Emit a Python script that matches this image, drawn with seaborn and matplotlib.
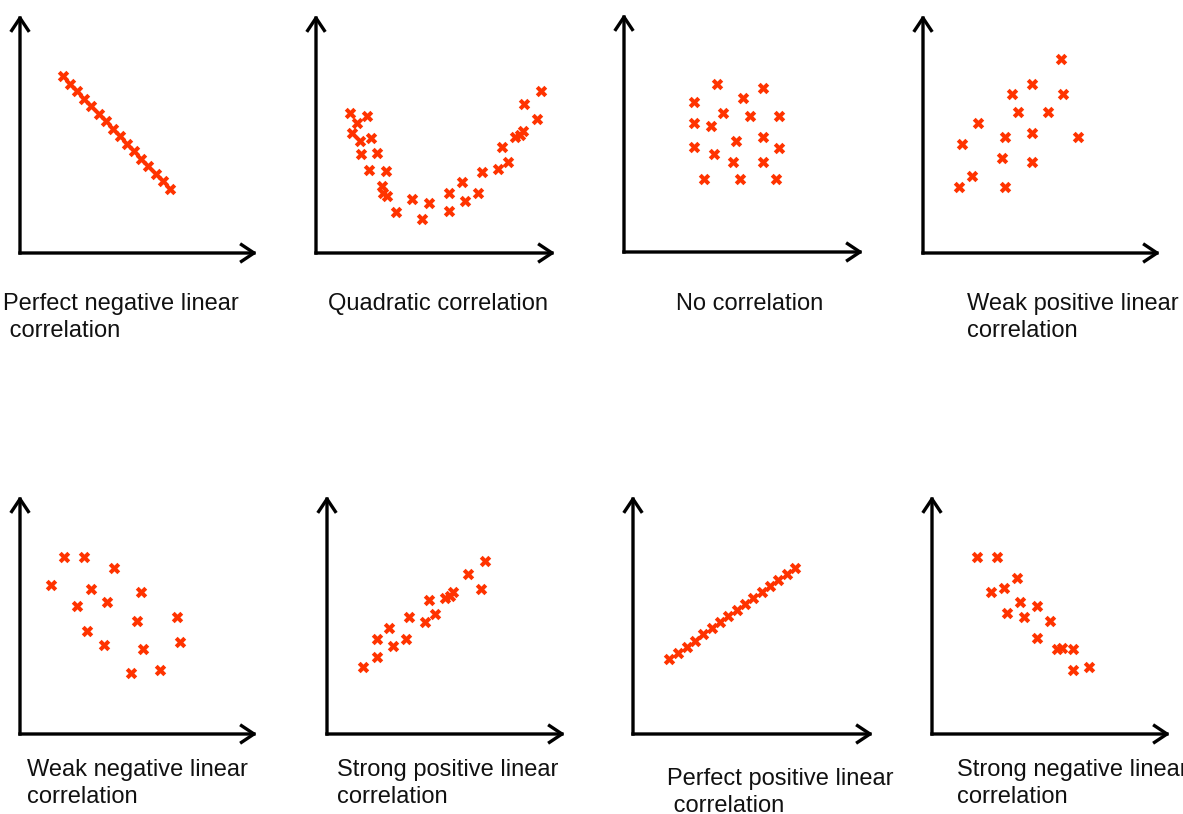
import matplotlib
matplotlib.use("Agg")
import matplotlib.pyplot as plt
import seaborn as sns
import pandas as pd

sns.set_style("white")
plt.rcParams['font.family'] = ['Liberation Sans', 'DejaVu Sans']

# ---- data (x, y) for each panel, arbitrary units measured from the origin ----
perf_neg_x = [43, 50, 57, 64, 71, 79, 86, 93, 100, 107, 114, 121, 128, 136, 143, 150]
perf_neg_y = [177, 169, 162, 154, 147, 139, 132, 124, 117, 109, 102, 94, 87, 79, 72, 64]

quad_x = [34, 51, 41, 36, 44, 55, 45, 61, 53, 70, 66, 67, 71, 80, 96, 113, 106, 133,
          133, 146, 149, 162, 166, 182, 192, 186, 199, 204, 207, 208, 221, 225]
quad_y = [140, 137, 130, 120, 112, 115, 99, 100, 83, 82, 67, 60, 57, 41, 54, 50, 34, 60,
          42, 71, 52, 60, 81, 84, 91, 106, 116, 118, 122, 149, 134, 162]

none_x = [93, 139, 70, 119, 99, 126, 155, 70, 87, 112, 139, 70, 155, 90, 109, 139, 80, 116, 152]
none_y = [168, 164, 150, 154, 139, 136, 136, 129, 126, 111, 115, 105, 104, 98, 90, 90, 73, 73, 73]

weak_pos_x = [138, 109, 89, 140, 95, 125, 55, 82, 109, 155, 39, 79, 109, 49, 36, 82]
weak_pos_y = [194, 169, 159, 159, 141, 141, 130, 116, 120, 116, 109, 95, 91, 77, 66, 66]

weak_neg_x = [44, 64, 94, 31, 71, 121, 57, 87, 117, 157, 67, 84, 123, 160, 111, 140]
weak_neg_y = [177, 177, 166, 149, 145, 142, 128, 132, 113, 117, 103, 89, 85, 92, 61, 64]

strong_pos_x = [158, 141, 154, 126, 123, 118, 102, 108, 82, 98, 62, 79, 50, 66, 50, 36]
strong_pos_y = [173, 160, 145, 142, 138, 136, 134, 120, 117, 112, 106, 95, 95, 88, 77, 67]

perf_pos_x = [36, 45, 54, 62, 70, 79, 87, 95, 104, 112, 120, 129, 137, 145, 154, 162]
perf_pos_y = [75, 81, 87, 93, 100, 106, 112, 118, 124, 130, 136, 142, 148, 154, 160, 166]

strong_neg_x = [45, 65, 85, 59, 72, 88, 105, 75, 92, 118, 105, 125, 130, 141, 141, 157]
strong_neg_y = [177, 177, 156, 142, 146, 132, 128, 121, 117, 113, 96, 85, 86, 85, 64, 67]

captions = [
    "Perfect negative linear\n correlation",
    "Quadratic correlation",
    "No correlation",
    "Weak positive linear\ncorrelation",
    "Weak negative linear\ncorrelation",
    "Strong positive linear\ncorrelation",
    "Perfect positive linear\n correlation",
    "Strong negative linear\ncorrelation",
]
series = [
    (perf_neg_x, perf_neg_y), (quad_x, quad_y), (none_x, none_y), (weak_pos_x, weak_pos_y),
    (weak_neg_x, weak_neg_y), (strong_pos_x, strong_pos_y), (perf_pos_x, perf_pos_y),
    (strong_neg_x, strong_neg_y),
]

# ---- layout (pixels) ----
W, H = 1183, 814
origins = [(20, 253), (316, 253), (624, 252), (923, 253),
           (20, 734), (327, 734), (633, 734), (932, 734)]
x_len = [237, 239, 239, 237, 237, 238, 240, 238]
y_len = 238
cap_pos = [(3, 293), (328, 293), (676, 293), (967, 293),
           (27, 759), (337, 759), (667, 768), (957, 759)]

MARK = "#ff3300"

fig = plt.figure(figsize=(W / 100, H / 100), dpi=100)

for i, ((ox, oy), (xs, ys)) in enumerate(zip(origins, series)):
    L = x_len[i]
    ax = fig.add_axes([ox / W, 1 - oy / H, L / W, y_len / H])
    ax.set_xlim(0, L)
    ax.set_ylim(0, y_len)
    ax.axis("off")
    df = pd.DataFrame({"x": xs, "y": ys})
    sns.scatterplot(data=df, x="x", y="y", ax=ax, marker="X", color=MARK,
                    s=68, linewidth=0, clip_on=False)
    arrow = dict(arrowstyle="->,head_length=0.45,head_width=0.3", lw=2.4,
                 color="black", shrinkA=0, shrinkB=0, mutation_scale=20,
                 capstyle="projecting")
    ax.annotate("", xy=(1, 0), xytext=(0, 0), xycoords="axes fraction",
                textcoords="axes fraction", arrowprops=arrow, annotation_clip=False)
    ax.annotate("", xy=(0, 1), xytext=(0, 0), xycoords="axes fraction",
                textcoords="axes fraction", arrowprops=arrow, annotation_clip=False)

for (cx, cy), txt in zip(cap_pos, captions):
    fig.text(cx / W, 1 - cy / H, txt, ha="left", va="top", fontsize=17,
             color="#111111", linespacing=1.32)

fig.savefig("out.png", dpi=100)
